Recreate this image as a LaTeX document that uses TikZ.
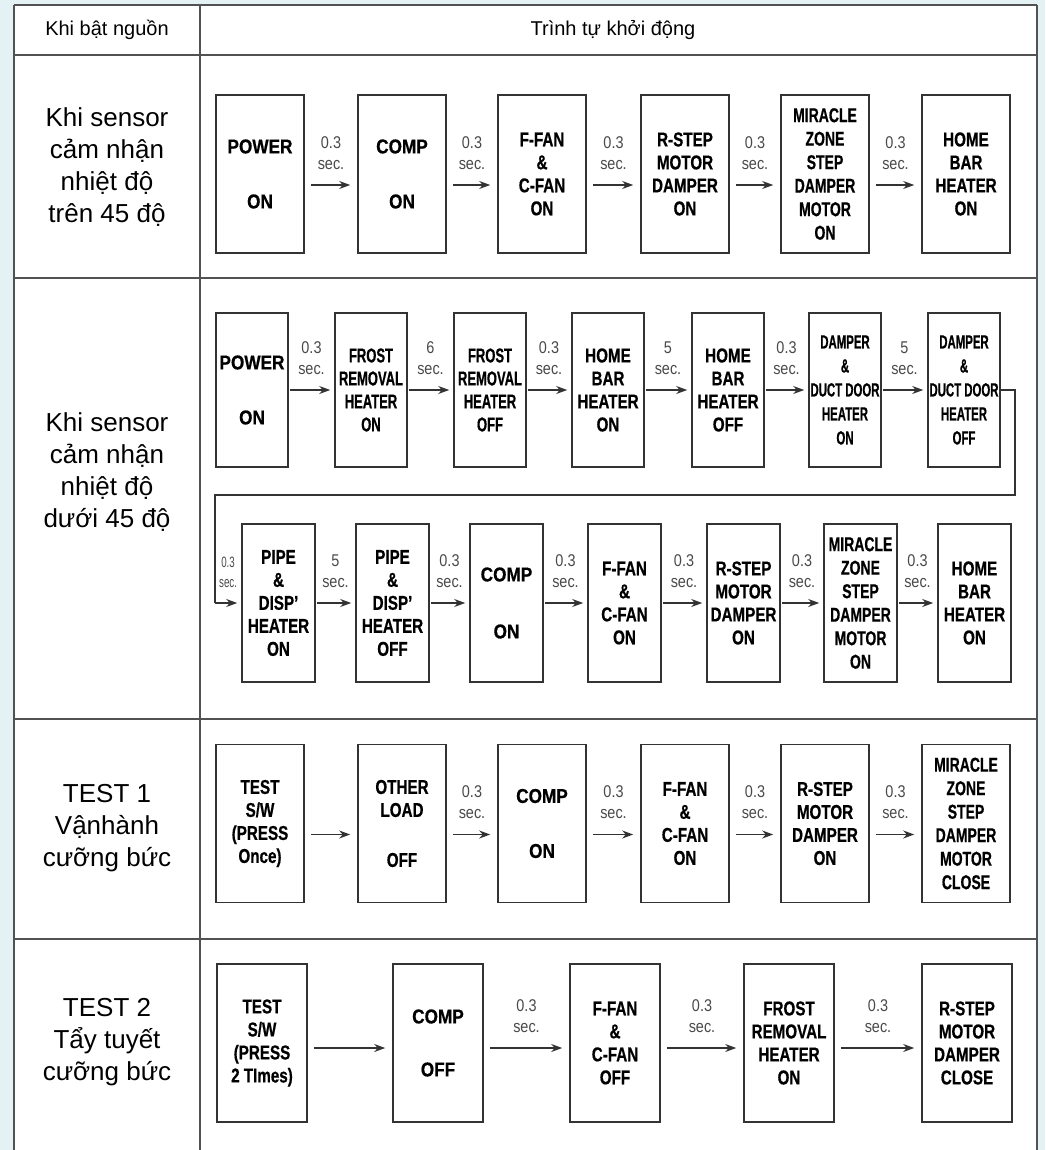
\documentclass[tikz,border=0pt]{standalone}
\usepackage{fontspec}
\setmainfont{Liberation Sans}
\newfontfamily\famN[FakeStretch=0.86,FakeBold=0.6]{Liberation Sans}
\newfontfamily\famM[FakeStretch=0.76,FakeBold=0.6]{Liberation Sans}
\newfontfamily\famK[FakeStretch=0.70,FakeBold=0.6]{Liberation Sans}
\newfontfamily\famR[FakeStretch=0.65,FakeBold=0.6]{Liberation Sans}
\newfontfamily\famD[FakeStretch=0.60,FakeBold=0.6]{Liberation Sans}
\newfontfamily\famL[FakeStretch=0.85]{Liberation Sans}
\newfontfamily\famS[FakeStretch=0.65]{Liberation Sans}
\usetikzlibrary{arrows.meta,calc}
\definecolor{bg}{HTML}{E4F2F6}
\definecolor{ln}{HTML}{333333}
\definecolor{lb}{HTML}{4A4A4A}
\begin{document}
\begin{tikzpicture}[x=1pt,y=-1pt,
  bx/.style={draw=ln, line width=1.6pt, inner sep=0pt, align=center, fill=white},
  fN/.style={font=\famN\bfseries\fontsize{20}{23}\selectfont},
  fM/.style={font=\famM\bfseries\fontsize{20}{23}\selectfont},
  fK/.style={font=\famK\bfseries\fontsize{20}{23.5}\selectfont},
  fR/.style={font=\famR\bfseries\fontsize{20}{23}\selectfont},
  fD/.style={font=\famD\bfseries\fontsize{19}{24}\selectfont},
  rowA/.style={bx, minimum width=88pt, minimum height=158pt},
  rowB/.style={bx, minimum width=72pt, minimum height=154pt},
  rowC/.style={bx, minimum width=73pt, minimum height=158pt},
  rowD/.style={bx, minimum width=90pt, minimum height=158pt},
  arr/.style={draw=ln, line width=1.5pt, -{Stealth[length=11pt,width=8pt]}},
  arrW/.style={arr, shorten <=6pt, shorten >=7pt},
  arrN/.style={arr, shorten <=1pt, shorten >=4pt},
  lbl/.style={above=15pt, inner sep=0pt, align=center, text=lb, font=\famL\fontsize{17}{21}\selectfont},
  lbls/.style={above=15pt, inner sep=0pt, align=center, text=lb, font=\famS\fontsize{15}{20}\selectfont},
  tbl/.style={draw=ln!85, line width=2pt},
  side/.style={align=center, font=\fontsize{26}{32}\selectfont},
  head/.style={align=center, font=\fontsize{20}{24}\selectfont}
]
\useasboundingbox (0,0) rectangle (1045,1150);
\fill[bg] (0,0) rectangle (1045,1150);
\fill[white] (14,5) rectangle (1037,1150);
% table lines
\draw[tbl] (14,5) -- (1037,5);
\draw[tbl] (14,55) -- (1037,55);
\draw[tbl] (14,278) -- (1037,278);
\draw[tbl] (14,719) -- (1037,719);
\draw[tbl] (14,939) -- (1037,939);
\draw[tbl] (14,5) -- (14,1150);
\draw[tbl] (200,5) -- (200,1150);
\draw[tbl] (1037,5) -- (1037,1150);
% header
\node[head] (h1) at (107,30) {Khi bật nguồn};
\node[head] (h2) at (613,30) {Trình tự khởi động};
% side labels
\node[side] (s1) at (107,167) {Khi sensor\\cảm nhận\\nhiệt độ\\trên 45 độ};
\node[side] (s2) at (107,472) {Khi sensor\\cảm nhận\\nhiệt độ\\dưới 45 độ};
\node[side] (s3) at (107,828) {TEST 1\\Vậnhành\\cưỡng bức};
\node[side] (s4) at (107,1042) {TEST 2\\Tẩy tuyết\\cưỡng bức};
% row 1
\node[rowA,fN] (r1a) at (260,174) {POWER\\[32pt]ON};
\node[rowA,fN] (r1b) at (402,174) {COMP\\[32pt]ON};
\node[rowA,fM] (r1c) at (542,174) {F-FAN\\\&\\C-FAN\\ON};
\node[rowA,fM] (r1d) at (685,174) {R-STEP\\MOTOR\\DAMPER\\ON};
\node[rowA,fK] (r1e) at (825,174) {MIRACLE\\ZONE\\STEP\\DAMPER\\MOTOR\\ON};
\node[rowA,fM] (r1f) at (966,174) {HOME\\BAR\\HEATER\\ON};
\foreach \p/\q in {r1a/r1b,r1b/r1c,r1c/r1d,r1d/r1e,r1e/r1f}
  \draw[arrW] ([yshift=-11pt]\p.east) -- node[lbl]{0.3\\sec.} ([yshift=-11pt]\q.west);
% row 2 top
\node[rowB,fN] (a1) at (252,390) {POWER\\[32pt]ON};
\node[rowB,fR] (a2) at (371,390) {FROST\\REMOVAL\\HEATER\\ON};
\node[rowB,fR] (a3) at (490,390) {FROST\\REMOVAL\\HEATER\\OFF};
\node[rowB,fM] (a4) at (608,390) {HOME\\BAR\\HEATER\\ON};
\node[rowB,fM] (a5) at (728,390) {HOME\\BAR\\HEATER\\OFF};
\node[rowB,fD] (a6) at (845,390) {DAMPER\\\&\\DUCT DOOR\\HEATER\\ON};
\node[rowB,fD] (a7) at (964,390) {DAMPER\\\&\\DUCT DOOR\\HEATER\\OFF};
\draw[arrN] (a1.east) -- node[lbl]{0.3\\sec.} (a2.west);
\draw[arrN] (a2.east) -- node[lbl]{6\\sec.} (a3.west);
\draw[arrN] (a3.east) -- node[lbl]{0.3\\sec.} (a4.west);
\draw[arrN] (a4.east) -- node[lbl]{5\\sec.} (a5.west);
\draw[arrN] (a5.east) -- node[lbl]{0.3\\sec.} (a6.west);
\draw[arrN] (a6.east) -- node[lbl]{5\\sec.} (a7.west);
% feedback path
\coordinate (fb1) at (1015,390);
\coordinate (fb2) at (1015,495);
\coordinate (fb3) at (215,495);
\coordinate (fb4) at (215,603);
% row 2 bottom
\node[rowC,fM] (b1) at (278.5,603) {PIPE\\\&\\DISP’\\HEATER\\ON};
\node[rowC,fM] (b2) at (392.5,603) {PIPE\\\&\\DISP’\\HEATER\\OFF};
\node[rowC,fN] (b3) at (506.5,603) {COMP\\[34pt]ON};
\node[rowC,fM] (b4) at (624.5,603) {F-FAN\\\&\\C-FAN\\ON};
\node[rowC,fM] (b5) at (743.5,603) {R-STEP\\MOTOR\\DAMPER\\ON};
\node[rowC,fK] (b6) at (860.5,603) {MIRACLE\\ZONE\\STEP\\DAMPER\\MOTOR\\ON};
\node[rowC,fM] (b7) at (974.5,603) {HOME\\BAR\\HEATER\\ON};
\draw[ln, line width=1.5pt] (a7.east) -- (fb1) -- (fb2) -- (fb3) -- (fb4);
\draw[arr, shorten >=4pt] (fb4) -- node[lbls]{0.3\\sec.} (b1.west);
\draw[arrN] (b1.east) -- node[lbl]{5\\sec.} (b2.west);
\foreach \p/\q in {b2/b3,b3/b4,b4/b5,b5/b6,b6/b7}
  \draw[arrN] (\p.east) -- node[lbl]{0.3\\sec.} (\q.west);
% row 3
\node[rowA,fM] (c1) at (260,823.5) {TEST\\S/W\\(PRESS\\Once)};
\node[rowA,fM] (c2) at (402,823.5) {OTHER\\LOAD\\[27pt]OFF};
\node[rowA,fN] (c3) at (542,823.5) {COMP\\[32pt]ON};
\node[rowA,fM] (c4) at (685,823.5) {F-FAN\\\&\\C-FAN\\ON};
\node[rowA,fM] (c5) at (825,823.5) {R-STEP\\MOTOR\\DAMPER\\ON};
\node[rowA,fK] (c6) at (966,823.5) {MIRACLE\\ZONE\\STEP\\DAMPER\\MOTOR\\CLOSE};
\draw[arrW] ([yshift=-11pt]c1.east) -- ([yshift=-11pt]c2.west);
\foreach \p/\q in {c2/c3,c3/c4,c4/c5,c5/c6}
  \draw[arrW] ([yshift=-11pt]\p.east) -- node[lbl]{0.3\\sec.} ([yshift=-11pt]\q.west);
% row 4
\node[rowD,fM] (d1) at (262,1043) {TEST\\S/W\\(PRESS\\2 TImes)};
\node[rowD,fN] (d2) at (438,1043) {COMP\\[30pt]OFF};
\node[rowD,fM] (d3) at (615,1043) {F-FAN\\\&\\C-FAN\\OFF};
\node[rowD,fM] (d4) at (789,1043) {FROST\\REMOVAL\\HEATER\\ON};
\node[rowD,fM] (d5) at (967,1043) {R-STEP\\MOTOR\\DAMPER\\CLOSE};
\draw[arrW] ([yshift=-5pt]d1.east) -- ([yshift=-5pt]d2.west);
\foreach \p/\q in {d2/d3,d3/d4,d4/d5}
  \draw[arrW] ([yshift=-5pt]\p.east) -- node[lbl]{0.3\\sec.} ([yshift=-5pt]\q.west);
\end{tikzpicture}
\end{document}
